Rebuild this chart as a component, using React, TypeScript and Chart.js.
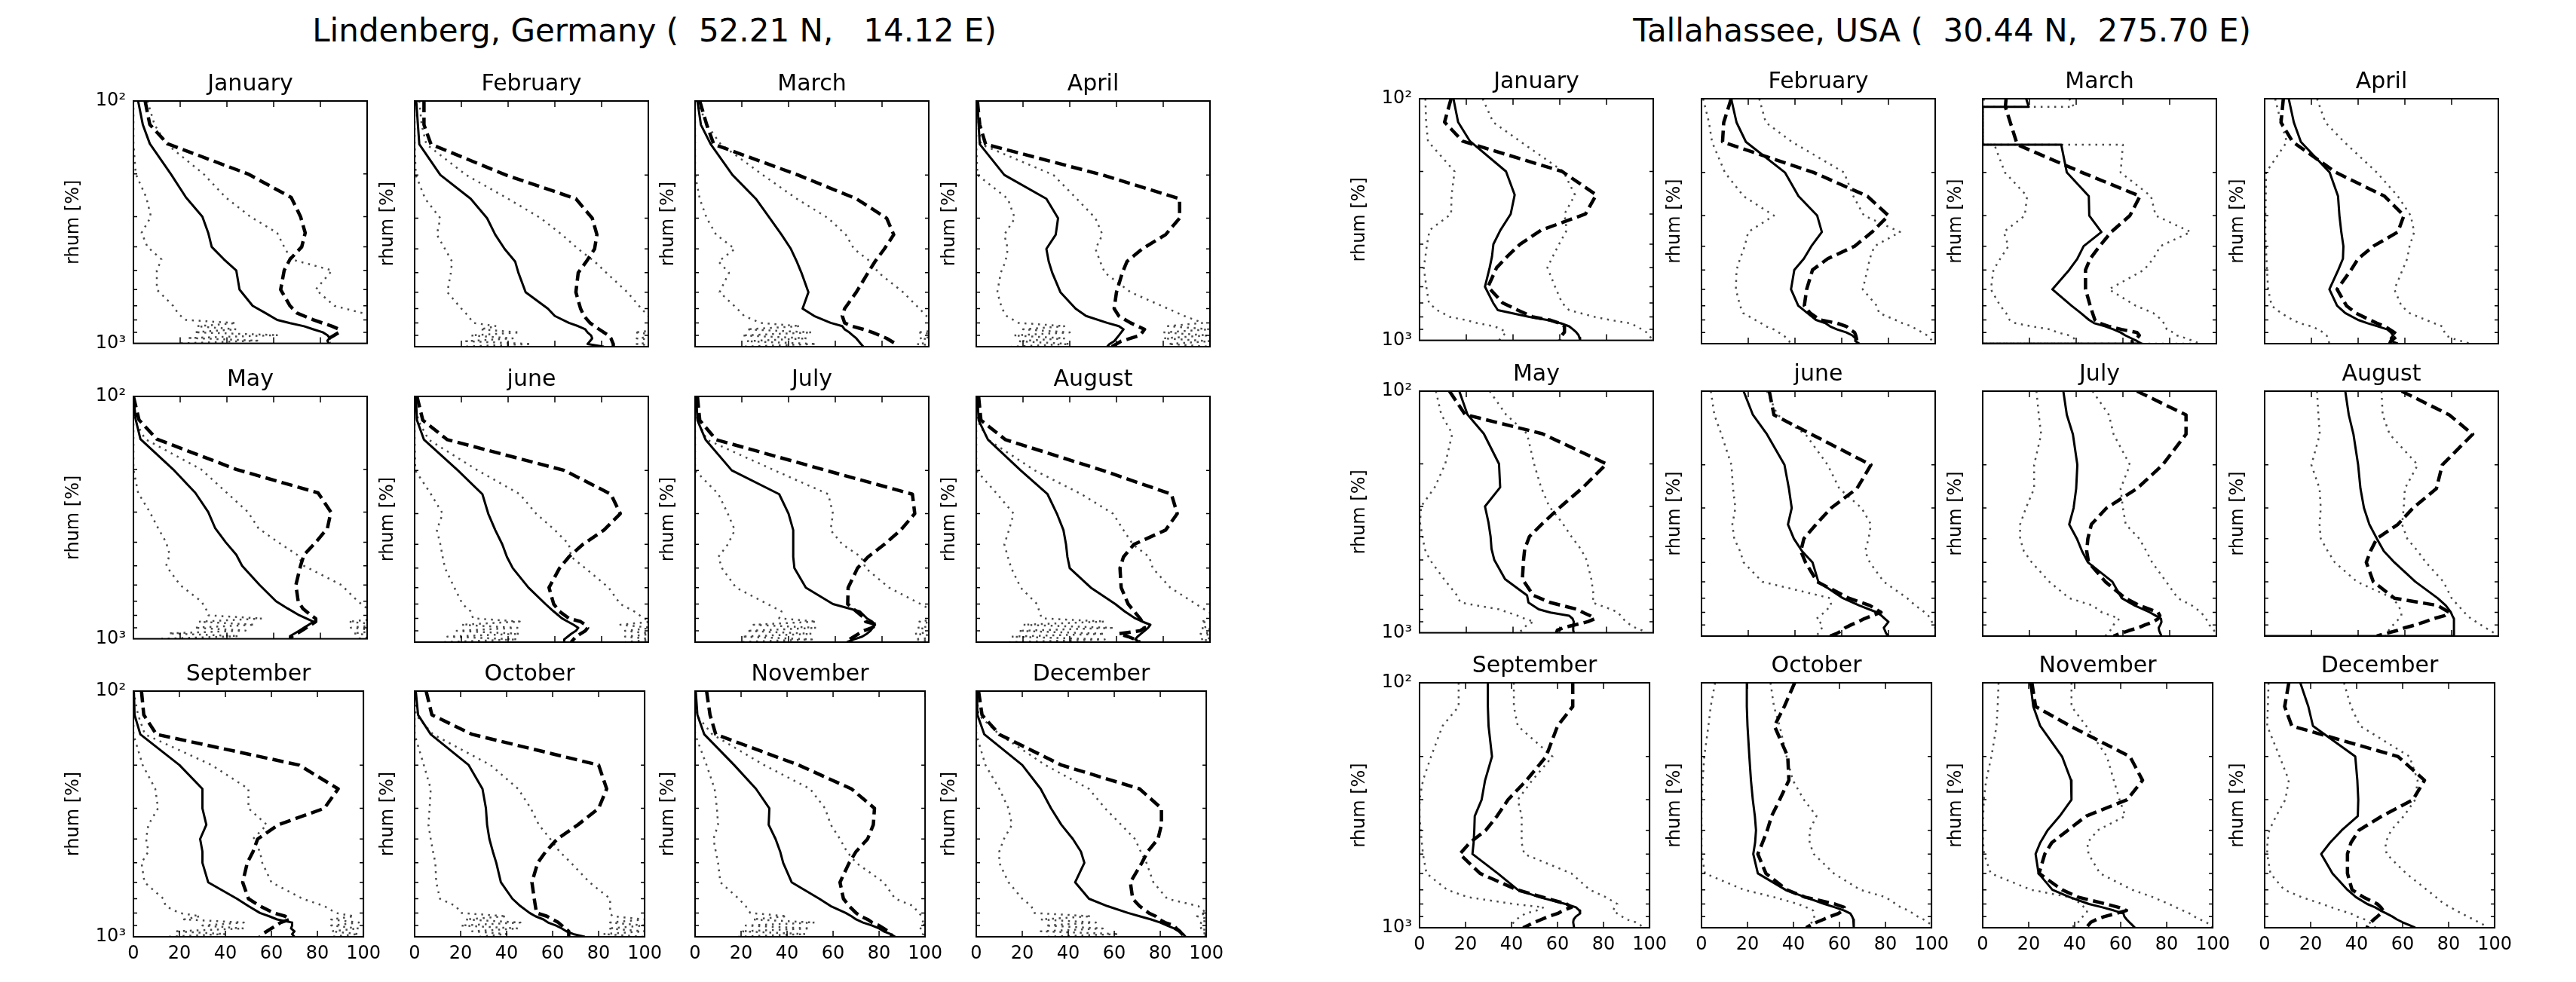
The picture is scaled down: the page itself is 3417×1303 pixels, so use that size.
import React, { useEffect, useRef } from 'react';
import { Chart, registerables } from 'chart.js';

Chart.register(...registerables);

const FONT = "'DejaVu Sans', sans-serif";

// pressure levels (hPa) at which each profile is read
const pressureLevels = [100, 125, 150, 200, 250, 300, 350, 400, 450, 500, 600, 700, 750, 800, 825, 850, 875, 900, 925, 950, 975, 1000];
const pressureLevelsTalMar = [100, 108, 108, 154, 154, 200, 250, 300, 350, 400, 450, 500, 600, 700, 750, 800, 825, 850, 875, 900, 925, 950, 975, 1000, 1000];
const pressureLevelsTalAug = [...pressureLevels, 1000];

const xTickValues = [0, 20, 40, 60, 80, 100];
const yLabelValues = [100, 1000];
const yLabelTexts = ['10²', '10³'];
const yMinorTickValues = [200, 300, 400, 500, 600, 700, 800, 900];

const monthNames = ['January', 'February', 'March', 'April', 'May', 'june', 'July', 'August', 'September', 'October', 'November', 'December'];
const stationTitles = ['Lindenberg, Germany (  52.21 N,   14.12 E)', 'Tallahassee, USA (  30.44 N,  275.70 E)'];

// each panel: [solid, dashed, upper dotted, lower dotted] rhum [%] per level
const lindJan = [
  [2, 4, 7, 16, 22.5, 29.5, 32, 33.5, 38.7, 44, 45.4, 51, 56.5, 61.5, 67, 73, 77, 81, 83, 84, 83, 83.5],
  [5, 7, 14.5, 49, 67.5, 71.5, 73.5, 72, 67, 64.5, 63, 67, 70, 77, 81, 85, 88, 88, 86, 84, 83, 84],
  [6, 9, 14, 30, 39.5, 50, 61.5, 64.5, 67.5, 85, 78, 86, 98, 105, 110, 110, 110, 110, 110, 110, 110, 110],
  [0, 0, 0, 1, 5.5, 7.5, 3.5, 6, 12, 10, 10, 17, 19, 22, 44, 27, 44, 26, 62, 24, 53, 20],
];
const lindFeb = [
  [0.7, 1.4, 2, 11, 24, 31, 34.5, 38.5, 43, 44.4, 47.5, 57, 60, 66, 70, 73, 74, 75.5, 76, 75, 74, 81],
  [4, 4, 7, 39, 69, 76, 78, 77, 73.5, 70, 69, 71, 72.5, 75, 77, 79, 81, 83, 84, 84.5, 85, 85],
  [2, 3, 5, 22, 40, 54, 63, 70, 77, 82, 91, 97, 100, 103, 105, 107, 94, 108, 95, 108, 95, 108],
  [0, 0, 0, 0.5, 4.5, 11, 9.5, 13, 16, 15.5, 14, 20, 23, 25, 35, 28, 45, 24, 42, 22, 50, 20],
];
const lindMar = [
  [1, 2.5, 6.7, 16, 26, 32, 37, 41, 43.5, 45.5, 48.5, 46, 51, 58, 63, 64, 66, 67.5, 69, 70, 71, 72],
  [2, 5, 8, 44, 69, 82, 85, 81, 77, 74, 69, 64, 63, 64, 67, 72, 76, 79, 82, 84, 86, 86],
  [1, 5, 11, 29, 43.5, 57, 64.5, 68, 75, 78.5, 89, 96, 99, 103, 105, 107, 95, 108, 96, 108, 95, 108],
  [0, 0, 0, 0, 2, 5, 9, 17, 10, 14.5, 10.5, 18, 21, 28, 45, 22, 50, 20, 48, 22, 52, 20],
];
const lindApr = [
  [0.5, 1, 1.5, 12, 30, 35, 34, 30, 31, 32.5, 36, 42.5, 47, 56, 61, 63, 62, 61, 60, 59, 57, 56],
  [0.5, 1.5, 4, 54, 87, 87, 81, 71, 64.5, 62.5, 60, 59, 61, 66, 69, 72, 71, 70, 66, 62, 60, 58],
  [0.5, 1, 2, 33, 43, 51, 54, 51, 53, 55, 66, 82, 89, 97, 82, 100, 80, 99, 80, 100, 82, 100],
  [0, 0, 0, 0.5, 13.5, 16.5, 12, 13.5, 12.5, 10.5, 9, 11, 13, 18, 38, 20, 40, 16, 38, 18, 40, 15],
];
const lindMay = [
  [0, 1, 3, 17, 26.5, 32, 35, 39.5, 44, 46.5, 54, 61, 66, 71, 74, 77, 75, 73, 71, 69, 67, 67],
  [0, 2.4, 10, 44, 79, 84.5, 83, 78, 73, 71.5, 69.5, 70.5, 72.5, 76, 78, 78, 76, 74, 72, 70, 68, 67],
  [0, 0.5, 5, 29, 40, 49, 53.5, 62, 70, 73, 89, 96, 100, 104, 106, 92, 106, 93, 106, 94, 106, 95],
  [0, 0, 0, 0, 2, 7, 10.6, 14, 15.5, 14, 20, 29, 31, 32, 55, 28, 52, 26, 48, 15, 45, 12],
];
const lindJun = [
  [0.5, 1, 4, 18.5, 29, 31.5, 34.5, 37.5, 39.5, 42, 48.7, 56, 59.5, 63, 65.5, 68, 70, 69, 67, 65.5, 64, 64],
  [1, 3.5, 14, 64, 84, 88, 81, 72, 66, 62, 57.5, 59.5, 62, 66, 71, 73, 74, 73, 71, 69, 68, 67],
  [0, 1.5, 6, 27, 45, 52, 60, 66, 67, 73, 83, 88, 94, 98, 102, 88, 102, 90, 103, 90, 103, 90],
  [0, 0, 0, 0.3, 7, 12, 9.5, 11, 12, 13, 17, 20.5, 24, 25, 45, 20, 44, 18, 45, 14, 44, 12],
];
const lindJul = [
  [0.5, 1, 4.5, 15.7, 36, 40, 42, 42, 42, 42.5, 47.4, 59, 70.5, 73.5, 75.8, 77, 76, 75, 73.5, 71.5, 68, 65],
  [1, 2, 9, 56, 93, 94, 88, 81, 74, 69.5, 65.5, 65.3, 69, 72.6, 73, 78, 75.5, 72, 70, 68, 66, 65],
  [0, 1, 5, 34, 57, 59, 58, 63, 71, 73, 83, 96.5, 102, 105, 96, 106, 95, 106, 94, 106, 94, 106],
  [0, 0, 0, 0, 10, 14, 17, 14, 10, 11.5, 17.5, 31, 37, 36, 52, 25, 52, 22, 50, 20, 50, 18],
];
const lindAug = [
  [0.5, 1, 5, 19, 30.5, 34.5, 37.3, 38.4, 39, 40, 49, 59.5, 63.5, 68, 71, 74.5, 73.5, 72, 70.5, 69, 68, 70],
  [1, 2, 12.5, 54, 83.5, 86, 81, 67.5, 63, 61.5, 62, 65, 67.6, 70, 71, 71.5, 72, 70, 61, 65, 68, 70],
  [0, 0.5, 5, 25, 45, 58.5, 63, 67, 74, 75.5, 83, 94, 99, 104, 96, 105, 96, 105, 96, 105, 96, 105],
  [0, 0, 0, 0, 9, 16, 14, 12, 13.5, 15, 19, 26, 27, 28, 55, 20, 58, 18, 55, 15, 55, 14],
];
const lindSep = [
  [0.2, 0.5, 3, 20, 30, 30, 31.7, 29, 30, 30, 32.5, 45, 50, 55, 59, 62.5, 69, 69, 68.5, 70, 69, 70],
  [3.5, 4.5, 10, 72, 89, 83, 63, 54, 52, 49.5, 47.5, 50, 55, 61, 66, 68, 64, 62, 60, 58, 56, 55],
  [0, 2, 5, 34, 50, 50, 58, 52, 55, 56, 60, 73.5, 83, 88, 96, 86, 98, 86, 98, 86, 98, 86],
  [0, 0, 0, 4, 9.5, 10.7, 6.5, 5.5, 6.5, 3.5, 4.8, 13, 14, 20, 29, 22, 48, 30, 48, 18, 40, 14],
];
const lindOct = [
  [0.5, 1.5, 7, 23.5, 29.5, 31, 31.5, 32.5, 34, 35.5, 37.5, 42.5, 46, 50, 52.5, 56, 58, 61.5, 64, 66, 69, 74],
  [5, 7.5, 25, 80, 83.5, 80, 71, 62, 57, 53.5, 51, 52, 52.5, 53, 57.5, 60, 62.5, 64, 65.5, 67, 67, 67],
  [0, 0.5, 8, 33, 45, 50.5, 54, 59, 63, 68, 76, 85, 85, 85, 86, 100, 85, 100, 84, 100, 82, 100],
  [0, 0, 0, 4, 7, 6.5, 6, 7, 8, 9, 9.4, 11, 18, 20, 40, 22, 46, 20, 45, 25, 40, 28],
];
const lindNov = [
  [0.3, 1, 4, 17, 26.5, 32.3, 32, 35, 37, 38.3, 42, 54, 59, 65.5, 68, 70, 73, 77, 80, 82, 85, 87],
  [5, 6.5, 9, 45, 68, 78, 77.5, 75, 70, 67, 63, 64.5, 67, 70, 72, 75, 77, 80, 82, 84, 85, 86],
  [0, 0.5, 7.5, 30, 50, 56.5, 59, 63, 66, 70, 82, 87, 95, 97, 99, 101, 98, 100, 98, 101, 99, 101],
  [0, 0, 0, 5, 8.5, 9.5, 10, 8, 9, 10, 11, 19, 22, 24, 40, 25, 52, 22, 50, 20, 48, 18],
];
const lindDec = [
  [0.3, 0.5, 3.5, 20, 28, 32.5, 37, 42, 45.5, 47, 43, 49, 57, 66, 71, 76, 80, 83, 86, 88, 90, 91],
  [1, 2.5, 10, 37, 71, 80.5, 80.5, 79, 74.5, 72, 67, 68, 71, 75, 78, 79.5, 82, 86, 87, 88.5, 89.5, 91],
  [0, 1, 10, 30, 49, 56, 63, 69, 71.5, 74, 77, 83, 96.5, 100, 96, 102, 97, 102, 97, 102, 98, 102],
  [0, 0, 0, 4, 10, 14, 15.5, 12, 10, 10, 14, 20, 24, 25, 50, 28, 52, 30, 55, 28, 62, 30],
];

const talJan = [
  [14.5, 16.5, 21.6, 37, 40.7, 39, 34.6, 31.6, 31, 30, 28, 31.5, 33.5, 47, 55, 60.5, 64, 65.6, 67, 68, 68.4, 68.7],
  [13.5, 10.7, 18.5, 61, 75.6, 71, 52, 43, 37.5, 33, 29.3, 35.6, 42, 48.5, 56, 60, 62, 62, 62, 61, 60, 60],
  [27, 31.5, 43, 61.5, 66.5, 62, 63, 59.7, 57, 54.7, 58, 61, 64, 75, 82, 90, 93, 95, 97, 98, 99, 100],
  [2.5, 2.8, 3.6, 15, 13.7, 13.5, 4.3, 3.2, 2.5, 1.8, 2.9, 4, 7.5, 13, 20, 25, 32, 35, 37, 36, 35, 34],
];
const talFeb = [
  [12.7, 15, 19, 35.7, 41.5, 49.5, 51.5, 47, 43.8, 39.7, 38.3, 41.4, 45.3, 49, 53, 55, 58, 62, 64.5, 65.8, 65.8, 67.5],
  [12.7, 9.5, 9, 48, 71, 80, 73, 65.5, 54, 47.5, 45, 44, 46.5, 50.7, 58, 62, 63.5, 65.5, 66, 66.3, 66.5, 66.5],
  [24.7, 27.5, 38.7, 61, 65, 69.5, 85, 74, 72, 71, 69, 75, 76, 83, 86, 90, 92, 94.5, 96.5, 97.5, 99, 100],
  [0.7, 3.2, 4.5, 10, 18, 31, 20, 18.5, 16.5, 15, 14.7, 16.5, 17.8, 23, 25.5, 27.5, 31, 33, 35.2, 36.3, 37.5, 38],
];
const talMar = [
  [18.6, 19.7, 0, 0, 33.6, 36, 45.4, 45.6, 50.8, 43.2, 40.5, 37, 29.8, 38, 42, 45.5, 47.7, 52.5, 56, 59, 61, 63.5, 66, 68, 0],
  [10, 9.7, 9.7, 14.8, 14.8, 42.5, 67.3, 63, 55, 50, 46, 44, 44, 46, 47, 48, 50, 54, 59.4, 66, 67, 66, 64, 64, 64],
  [37, 39, 0, 0, 60, 59, 72, 74, 89, 76, 73, 69, 54, 65.5, 73, 76.6, 77.5, 78.5, 78.7, 81.5, 83, 87, 90, 93, 0],
  [0.5, 0.5, 0, 0, 5, 9.5, 19, 18, 9, 11, 7.5, 4.6, 3.5, 7.5, 10, 11.5, 14, 21, 29, 32, 37, 39, 40, 41, 0],
];
const talApr = [
  [10.3, 12.5, 15.5, 27.8, 31.4, 32, 32.8, 33.7, 33.5, 31.5, 27.7, 31, 34.5, 40, 44, 48.5, 52.5, 54, 55, 54, 54, 57],
  [8, 7, 12, 30.5, 51.3, 59.6, 57, 46.5, 40, 37, 31, 35, 39, 45, 48, 51.5, 53.5, 55.5, 57, 55.5, 54, 53.5],
  [22.4, 26, 34, 48, 57, 62.5, 64, 62, 61, 59, 55.5, 58.5, 62, 69, 72.5, 76, 76.5, 77, 77.5, 80, 84, 88],
  [4.5, 7, 9.5, 0.6, 0.5, 0.3, 0.3, 0.5, 0.8, 1, 1.5, 3, 7, 12, 15, 20, 23, 25, 26.5, 27, 27.5, 27.6],
];
const talMay = [
  [17, 20.5, 27.5, 34, 34.5, 28, 29.5, 30.4, 30.8, 32, 36.6, 46, 46.6, 51, 56, 64, 65.5, 66, 65.8, 65.7, 65.8, 66],
  [12.8, 19.5, 52.5, 80, 70, 60.5, 53, 47, 45, 44.5, 44, 48.7, 56, 67.5, 70, 73, 75, 72, 67, 62, 59, 58.6],
  [30, 37, 46, 49, 52, 55.5, 61, 65, 69, 71.5, 73.5, 74.5, 74, 82, 85, 86, 87, 88.5, 90, 92, 95, 97],
  [7, 9.3, 14, 11, 6.5, 0.7, 0.2, 1.3, 2.2, 4.5, 10.5, 16, 17.5, 34, 38, 42, 45, 49, 46, 45, 44, 42],
];
const talJun = [
  [18, 22, 28, 35.5, 37.4, 38.6, 37, 39.5, 43, 47.5, 50, 60.5, 67.5, 75, 77, 78.5, 80, 79, 78, 78.5, 79, 80],
  [29, 31, 47, 72.5, 66.5, 55.5, 49, 43.8, 42.5, 44.5, 49.5, 63, 72, 76.8, 73, 69.6, 67, 64, 61.5, 60, 58, 55],
  [28, 32.5, 44.5, 54, 59, 68.5, 72.5, 71.5, 70, 72, 78, 88, 91.5, 95.5, 97, 98, 98.6, 99.2, 100, 100, 100, 100],
  [4, 5.5, 8.5, 12.8, 13.5, 14.5, 13.2, 14, 16.5, 18, 26, 55, 55.5, 52.5, 51, 49.2, 50.5, 51.8, 51.5, 51, 50, 49],
];
const talJul = [
  [34.5, 36, 38.6, 40.5, 40, 38.9, 37, 40.3, 42.5, 45, 55.5, 59.5, 65, 71.5, 74, 76.3, 76.5, 76, 75.3, 75.5, 76, 76.5],
  [66, 87, 87, 77, 66, 53, 46.5, 45, 44.5, 45.3, 52.5, 61, 67, 75, 75.8, 75, 73, 69.5, 66.5, 62.5, 59, 56],
  [47, 54, 56, 63, 59, 60, 61.2, 67, 70, 72.5, 78.5, 83.5, 89.5, 93.5, 94.5, 95.5, 96.5, 97, 98, 99, 100, 100],
  [23, 24, 25, 22, 22, 18.5, 16, 16, 17.6, 21, 28.5, 37, 47, 51, 55, 58.5, 57, 56, 55.5, 54.5, 53.5, 52.4],
];
const talAug = [
  [34.5, 36, 38, 40, 41, 42.5, 44.8, 48, 51, 55.5, 64.5, 74, 77.5, 79.7, 80.3, 81, 81, 81, 81, 81, 81, 81, 0],
  [58.6, 79, 89, 76, 73.5, 63.5, 57, 48, 45.3, 43.5, 46.5, 55.5, 74, 79, 77, 72, 68.5, 64.5, 60, 56.5, 52, 48, 48],
  [50, 50.5, 53.5, 65.5, 60, 59.5, 58.8, 61, 65.5, 69, 76.5, 80, 82.8, 85.5, 86.5, 88.5, 90.5, 92.5, 94.5, 96.5, 98.5, 100, 100],
  [22.4, 23, 23.6, 20, 23.5, 24, 23.5, 24, 27, 30, 39.5, 54.7, 57.3, 58.5, 58.5, 57.6, 56, 55, 54, 53, 52.4, 51.7, 51.7],
];
const talSep = [
  [29.7, 29.7, 30, 31.5, 28.5, 27, 24, 23.8, 23.5, 23, 34, 42.7, 52, 63.5, 68, 69.5, 69.8, 68, 67, 66.8, 67, 67.2],
  [66.6, 66.6, 60, 55, 46.5, 38.5, 33.7, 28.8, 21.8, 17.5, 26.3, 42.4, 53.5, 64, 66, 62.5, 60, 56, 53, 50, 47.5, 45],
  [41, 41, 42.7, 57.8, 49, 42.7, 44.4, 44.4, 44.4, 45.5, 66, 74, 81, 86, 85, 84, 86, 88, 90, 94, 96, 97],
  [17, 17, 10, 5, 1.5, 0, 0, 0.5, 1, 1.5, 3, 12, 21, 41, 54, 51, 46, 44, 42, 41, 40, 39],
];
const talOct = [
  [19.7, 19.7, 20, 20.8, 21.5, 22.3, 23.2, 23.7, 23.3, 22.5, 24.5, 36.5, 45, 53.5, 58, 62, 64.7, 65.5, 66, 66.2, 66.2, 66.2],
  [40.5, 36, 31.7, 37.5, 38, 34, 30.5, 28.6, 26.5, 24.5, 28, 37, 45, 58, 62, 61.5, 59.5, 56, 53, 50, 47.5, 45.5],
  [30, 31.5, 34, 37, 39.7, 44.5, 50, 47, 47, 48.8, 57.5, 69, 80, 84.5, 86.5, 90, 92, 94, 96.5, 98.5, 100, 100],
  [5.9, 4, 3, 1.2, 0.5, 0, 0, 0, 0, 0, 1.5, 18.5, 31.5, 42, 45.5, 48.5, 49, 49, 49, 48, 46.5, 45.5],
];
const talNov = [
  [20.7, 22, 25, 34.5, 38.4, 38.6, 33.5, 28.2, 25, 23, 24.3, 30.3, 37.8, 46.2, 52, 57, 61.2, 61.6, 62.6, 63.8, 65, 66.2],
  [21.4, 23, 38, 64, 69.5, 62.8, 45, 37, 30, 27, 24.5, 34.5, 41.5, 53.5, 59, 62.5, 58, 53, 49.5, 47, 46, 45],
  [38.6, 38.6, 45, 54, 57, 59.5, 62, 50, 45.5, 46, 51, 65, 74, 81, 84, 87, 90, 92, 94.5, 97, 99.5, 100],
  [6.9, 6.5, 6, 3.8, 1.5, 0.5, 0.2, 0, 0.2, 0.6, 3.5, 21, 37.8, 43, 44, 45.5, 45, 43.5, 42.5, 41.5, 40, 38.6],
];
const talDec = [
  [15.5, 19, 21, 39.4, 40.3, 40.7, 40.5, 33.5, 28.4, 24.6, 29.5, 36, 39.7, 44.6, 48, 50.3, 53, 55.5, 57.5, 60, 62.8, 65.5],
  [10.5, 8.7, 11.8, 58, 69.5, 64.5, 51, 41, 37.5, 36, 36, 38, 43, 49, 50.5, 51.5, 50.5, 49, 47.5, 46.2, 45, 44.5],
  [34.5, 37.5, 41.5, 63, 66.5, 65.5, 60.5, 55, 52.5, 53, 61.5, 70.5, 74.5, 78, 81, 83, 86, 88, 91, 93, 95.5, 97],
  [1.7, 1.4, 1.1, 6.5, 10.5, 9, 5, 2, 1.2, 1.1, 2.5, 8.5, 16, 25, 29, 33, 37.5, 40, 43.5, 45.5, 47, 48.3],
];

const lindenbergPanels = [lindJan, lindFeb, lindMar, lindApr, lindMay, lindJun, lindJul, lindAug, lindSep, lindOct, lindNov, lindDec];
const tallahasseePanels = [talJan, talFeb, talMar, talApr, talMay, talJun, talJul, talAug, talSep, talOct, talNov, talDec];
const tallahasseeLevels = [
  pressureLevels, pressureLevels, pressureLevelsTalMar, pressureLevels,
  pressureLevels, pressureLevels, pressureLevels, pressureLevelsTalAug,
  pressureLevels, pressureLevels, pressureLevels, pressureLevels,
];

const lineStyles = [
  { color: '#000000', width: 3, dash: [] as number[] },
  { color: '#000000', width: 4.5, dash: [15, 7] },
  { color: '#4a4a4a', width: 2.5, dash: [2.5, 6.5] },
  { color: '#4a4a4a', width: 2.5, dash: [2.5, 6.5] },
];

// layout
const PANEL_W = 310;
const TOP_PAD = 40;
const RIGHT_PAD = 26;
const groups = [
  { panels: lindenbergPanels, levels: null as any, xs: [177, 550, 922, 1295], ys: [134, 526, 917], h: 326, titleX: 868 },
  { panels: tallahasseePanels, levels: tallahasseeLevels, xs: [1883, 2257, 2630, 3004], ys: [131, 519, 906], h: 325, titleX: 2576 },
];

const framePlugin = {
  id: 'frameTicks',
  afterDatasetsDraw(chart: any) {
    const { ctx, chartArea, scales } = chart;
    const { left, right, top, bottom } = chartArea;
    const xs = scales.x;
    const ys = scales.y;
    ctx.save();
    ctx.strokeStyle = '#000';
    ctx.lineWidth = 1.5;
    ctx.beginPath();
    for (const v of xTickValues) {
      const px = xs.getPixelForValue(v);
      ctx.moveTo(px, bottom);
      ctx.lineTo(px, bottom - 8);
      ctx.moveTo(px, top);
      ctx.lineTo(px, top + 8);
    }
    for (const v of yMinorTickValues) {
      const py = ys.getPixelForValue(v);
      ctx.moveTo(left, py);
      ctx.lineTo(left + 5, py);
      ctx.moveTo(right, py);
      ctx.lineTo(right - 5, py);
    }
    ctx.stroke();
    ctx.lineWidth = 2;
    ctx.strokeRect(left, top, right - left, bottom - top);
    ctx.restore();
  },
};

type PanelProps = {
  series: number[][];
  levels: number[];
  title: string;
  col: number;
  row: number;
  x: number;
  y: number;
  h: number;
};

function Panel({ series, levels, title, col, row, x, y, h }: PanelProps) {
  const ref = useRef<HTMLCanvasElement>(null);
  const leftPad = col === 0 ? 110 : 60;
  const bottomPad = row === 2 ? 52 : 20;
  const width = leftPad + PANEL_W + RIGHT_PAD;
  const height = TOP_PAD + h + bottomPad;

  useEffect(() => {
    const canvas = ref.current;
    if (!canvas) return;
    const datasets = series.map((vals, i) => ({
      data: levels.map((p, k) => ({ x: vals[k], y: p })),
      borderColor: lineStyles[i].color,
      borderWidth: lineStyles[i].width,
      borderDash: lineStyles[i].dash,
      borderCapStyle: 'butt',
      borderJoinStyle: 'round',
      pointRadius: 0,
      pointHoverRadius: 0,
      tension: 0,
      fill: false,
    }));
    const chart = new Chart(canvas, {
      type: 'line',
      data: { datasets } as any,
      options: {
        animation: false,
        responsive: false,
        devicePixelRatio: 1,
        events: [],
        layout: { padding: { left: 0, right: RIGHT_PAD, top: 0, bottom: 0 } },
        plugins: {
          legend: { display: false },
          tooltip: { enabled: false },
          title: {
            display: true,
            fullSize: false,
            text: title,
            color: '#000',
            font: { family: FONT, size: 30, weight: 'normal', lineHeight: 1.2 },
            padding: { top: 0, bottom: 4 },
          },
        },
        scales: {
          x: {
            type: 'linear',
            min: 0,
            max: 100,
            grid: { display: false, drawTicks: false },
            border: { display: false },
            ticks: {
              display: row === 2,
              color: '#000',
              font: { family: FONT, size: 24 },
              padding: 8,
              maxRotation: 0,
              autoSkip: false,
            },
            afterBuildTicks: (s: any) => {
              s.ticks = xTickValues.map((v) => ({ value: v }));
            },
            afterFit: (s: any) => {
              s.height = bottomPad;
            },
          },
          y: {
            type: 'logarithmic',
            reverse: true,
            min: 100,
            max: 1000,
            grid: { display: false, drawTicks: false },
            border: { display: false },
            ticks: {
              display: col === 0,
              color: '#000',
              font: { family: FONT, size: 24 },
              padding: 10,
              autoSkip: false,
              callback: (v: any) => {
                const i = yLabelValues.indexOf(Number(v));
                return i >= 0 ? yLabelTexts[i] : '';
              },
            },
            afterBuildTicks: (s: any) => {
              s.ticks = yLabelValues.map((v) => ({ value: v }));
            },
            title: {
              display: true,
              text: 'rhum [%]',
              color: '#000',
              font: { family: FONT, size: 24, lineHeight: 1.2 },
              padding: { top: col === 0 ? 16.6 : 10.6, bottom: 0 },
            },
            afterFit: (s: any) => {
              s.width = leftPad;
            },
          },
        },
      } as any,
      plugins: [framePlugin],
    });
    return () => chart.destroy();
  }, []);

  return (
    <canvas
      ref={ref}
      width={width}
      height={height}
      style={{ position: 'absolute', left: x - leftPad, top: y - TOP_PAD, width, height }}
    />
  );
}

export default function App() {
  return (
    <div style={{ position: 'absolute', left: 0, top: 0, width: 3417, height: 1303, background: '#fff', overflow: 'hidden' }}>
      {groups.map((g, gi) => (
        <div
          key={'t' + gi}
          style={{
            position: 'absolute',
            left: g.titleX - 1000,
            width: 2000,
            top: 41 - 25,
            height: 50,
            lineHeight: '50px',
            textAlign: 'center',
            whiteSpace: 'pre',
            fontFamily: FONT,
            fontSize: 42,
            color: '#000',
          }}
        >
          {stationTitles[gi]}
        </div>
      ))}
      {groups.map((g, gi) =>
        g.panels.map((series, m) => {
          const row = Math.floor(m / 4);
          const col = m % 4;
          const levels = g.levels ? g.levels[m] : pressureLevels;
          return (
            <Panel
              key={gi + '-' + m}
              series={series}
              levels={levels}
              title={monthNames[m]}
              col={col}
              row={row}
              x={g.xs[col]}
              y={g.ys[row]}
              h={g.h}
            />
          );
        })
      )}
    </div>
  );
}
